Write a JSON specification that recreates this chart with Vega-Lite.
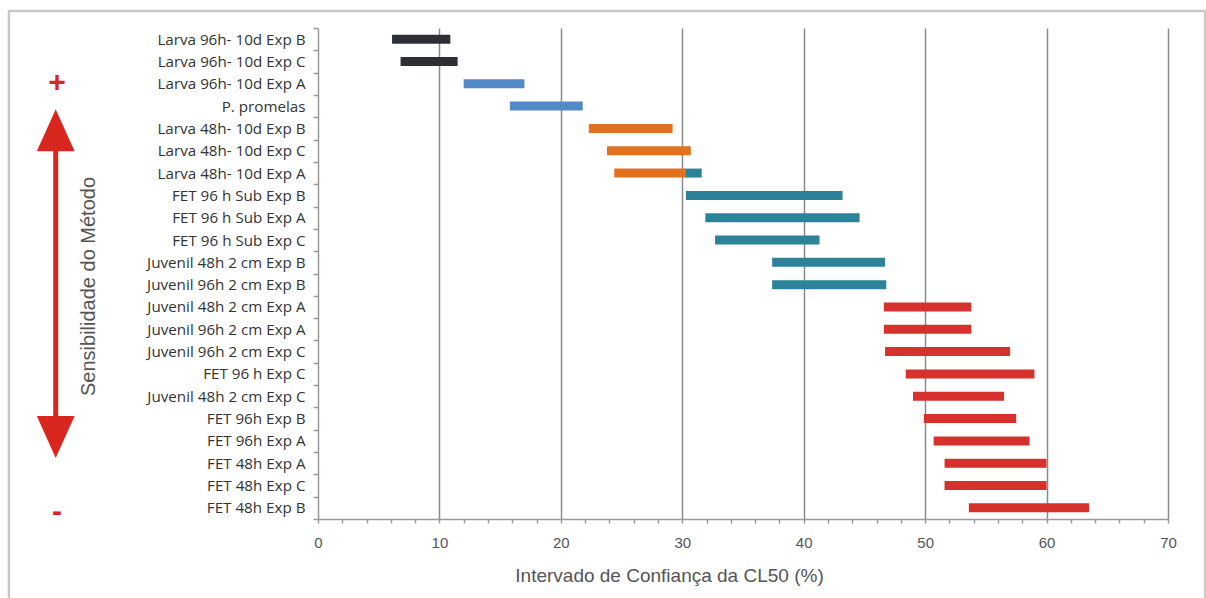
{
  "$schema": "https://vega.github.io/schema/vega-lite/v6.json",
  "width": 850,
  "height": 491,
  "autosize": "none",
  "padding": {"left": 318, "top": 28, "right": 38, "bottom": 79},
  "background": "white",
  "config": {"view": {"stroke": null}},
  "layer": [
    {
      "data": {"values": [
        {"label": "Larva 96h- 10d Exp B", "lo": 6.1, "hi": 10.9, "grp": "dark"},
        {"label": "Larva 96h- 10d Exp C", "lo": 6.8, "hi": 11.5, "grp": "dark"},
        {"label": "Larva 96h- 10d Exp A", "lo": 12.0, "hi": 17.0, "grp": "blue"},
        {"label": "P. promelas", "lo": 15.8, "hi": 21.8, "grp": "blue"},
        {"label": "Larva 48h- 10d  Exp B", "lo": 22.3, "hi": 29.2, "grp": "orange"},
        {"label": "Larva 48h- 10d Exp C", "lo": 23.8, "hi": 30.7, "grp": "orange"},
        {"label": "Larva 48h- 10d Exp A", "lo": 30.2, "hi": 31.6, "grp": "teal"},
        {"label": "Larva 48h- 10d Exp A", "lo": 24.4, "hi": 30.3, "grp": "orange"},
        {"label": "FET 96 h Sub  Exp B", "lo": 30.3, "hi": 43.2, "grp": "teal"},
        {"label": "FET 96 h Sub Exp A", "lo": 31.9, "hi": 44.6, "grp": "teal"},
        {"label": "FET 96 h Sub Exp C", "lo": 32.7, "hi": 41.3, "grp": "teal"},
        {"label": "Juvenil 48h 2 cm Exp B", "lo": 37.4, "hi": 46.7, "grp": "teal"},
        {"label": "Juvenil 96h 2 cm Exp B", "lo": 37.4, "hi": 46.8, "grp": "teal"},
        {"label": "Juvenil 48h 2 cm Exp A", "lo": 46.6, "hi": 53.8, "grp": "red"},
        {"label": "Juvenil 96h 2 cm Exp A", "lo": 46.6, "hi": 53.8, "grp": "red"},
        {"label": "Juvenil 96h 2 cm Exp C", "lo": 46.7, "hi": 57.0, "grp": "red"},
        {"label": "FET 96 h Exp C", "lo": 48.4, "hi": 59.0, "grp": "red"},
        {"label": "Juvenil 48h 2 cm Exp C", "lo": 49.0, "hi": 56.5, "grp": "red"},
        {"label": "FET 96h Exp B", "lo": 49.9, "hi": 57.5, "grp": "red"},
        {"label": "FET 96h Exp A", "lo": 50.7, "hi": 58.6, "grp": "red"},
        {"label": "FET 48h Exp A", "lo": 51.6, "hi": 60.0, "grp": "red"},
        {"label": "FET 48h Exp C", "lo": 51.6, "hi": 60.0, "grp": "red"},
        {"label": "FET 48h Exp B", "lo": 53.6, "hi": 63.5, "grp": "red"}
      ]},
      "mark": {"type": "bar", "size": 9},
      "encoding": {
        "y": {
          "field": "label", "type": "nominal", "sort": null,
          "scale": {"paddingInner": 0, "paddingOuter": 0},
          "axis": {
            "title": "Sensibilidade do Método",
            "titleFont": "Liberation Sans", "titleFontSize": 20, "titleFontWeight": "normal", "titleColor": "#555555",
            "titleX": -230, "titleY": 258, "titleAngle": -90, "titleBaseline": "middle", "titleAlign": "center",
            "labelFont": "Open Sans", "labelFontSize": 15.2, "labelColor": "#333333", "labelPadding": 8,
            "tickBand": "extent", "tickSize": 5, "tickColor": "#9a9a9a", "tickWidth": 1.5,
            "domainColor": "#9a9a9a", "domainWidth": 1.5, "grid": false
          }
        },
        "x": {
          "field": "lo", "type": "quantitative",
          "scale": {"domain": [0, 70], "nice": false, "zero": false},
          "axis": {
            "values": [0,2,4,6,8,10,12,14,16,18,20,22,24,26,28,30,32,34,36,38,40,42,44,46,48,50,52,54,56,58,60,62,64,66,68,70],
            "tickCount": 100,
            "format": "d",
            "labelExpr": "datum.value % 10 === 0 ? datum.label : ''",
            "labelOverlap": false, "labelFlush": false,
            "grid": true, "gridColor": "#8a8a8a", "gridWidth": 1.5,
            "gridOpacity": {"condition": {"test": "datum.value % 10 === 0 && datum.value > 0", "value": 1}, "value": 0},
            "tickSize": 4, "tickColor": "#9a9a9a", "tickWidth": 1.5,
            "domainColor": "#9a9a9a", "domainWidth": 1.5,
            "labelFont": "Liberation Sans Narrow, Arial Narrow, Liberation Sans, sans-serif", "labelFontSize": 15, "labelColor": "#555555", "labelPadding": 12,
            "title": "Intervado de Confiança da CL50 (%)",
            "titleFont": "Liberation Sans", "titleFontSize": 19, "titleFontWeight": "normal", "titleColor": "#555555",
            "titlePadding": 16, "titleX": 351, "titleAlign": "center"
          }
        },
        "x2": {"field": "hi"},
        "color": {
          "field": "grp", "type": "nominal", "legend": null,
          "scale": {"domain": ["dark", "blue", "orange", "teal", "red"], "range": ["#2c3034", "#5489c8", "#e1711f", "#2b8299", "#d7312e"]}
        }
      }
    },
    {
      "data": {"values": [{}]},
      "mark": {"type": "rect", "fill": null, "stroke": "#c9c9c9", "strokeWidth": 2.5, "clip": false},
      "encoding": {
        "x": {"datum": -25.45, "type": "quantitative"},
        "x2": {"datum": 73.06},
        "y": {"datum": -3.46, "type": "quantitative", "scale": {"domain": [0, 100], "reverse": true}, "axis": null},
        "y2": {"datum": 125}
      }
    },
    {
      "data": {"values": [{}]},
      "mark": {"type": "rule", "color": "#d9271f", "strokeWidth": 5, "clip": false},
      "encoding": {
        "x": {"datum": -21.6, "type": "quantitative"},
        "y": {"datum": 22, "type": "quantitative", "scale": {"domain": [0, 100], "reverse": true}, "axis": null},
        "y2": {"datum": 82}
      }
    },
    {
      "data": {"values": [{}]},
      "mark": {"type": "point", "shape": "M0,-1L0.9,1L-0.9,1Z", "size": 1764, "filled": true, "color": "#d9271f", "opacity": 1, "clip": false},
      "encoding": {
        "x": {"datum": -21.6, "type": "quantitative"},
        "y": {"datum": 20.8, "type": "quantitative", "scale": {"domain": [0, 100], "reverse": true}, "axis": null}
      }
    },
    {
      "data": {"values": [{}]},
      "mark": {"type": "point", "shape": "M0,1L0.9,-1L-0.9,-1Z", "size": 1764, "filled": true, "color": "#d9271f", "opacity": 1, "clip": false},
      "encoding": {
        "x": {"datum": -21.6, "type": "quantitative"},
        "y": {"datum": 83.3, "type": "quantitative", "scale": {"domain": [0, 100], "reverse": true}, "axis": null}
      }
    },
    {
      "data": {"values": [{"t": "+", "p": 11.2}, {"t": "-", "p": 98.6}]},
      "mark": {"type": "text", "color": "#d9271f", "font": "Liberation Sans", "fontSize": 30, "fontWeight": "bold", "baseline": "middle", "align": "center", "clip": false},
      "encoding": {
        "x": {"datum": -21.5, "type": "quantitative"},
        "y": {"field": "p", "type": "quantitative", "scale": {"domain": [0, 100], "reverse": true}, "axis": null},
        "text": {"field": "t"}
      }
    }
  ],
  "resolve": {"scale": {"y": "independent"}}
}
